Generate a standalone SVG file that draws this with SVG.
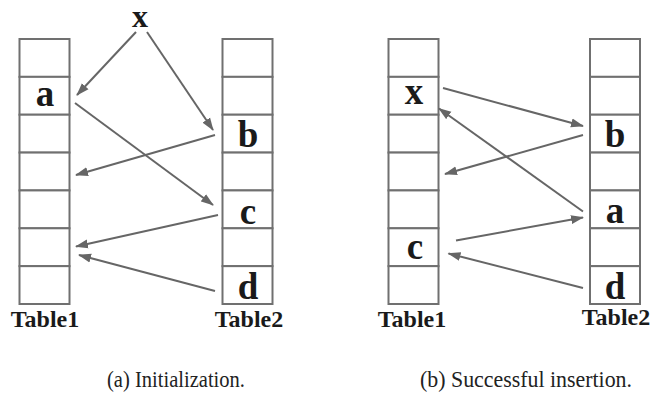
<svg xmlns="http://www.w3.org/2000/svg" width="665" height="396" viewBox="0 0 665 396">
  <style>
    .cell { fill: #ffffff; stroke: #707070; stroke-width: 2; }
    .key { font-family: 'Liberation Serif', 'Times New Roman', serif; font-weight: bold; font-size: 37px; fill: #1a1a1a; text-anchor: middle; }
    .top { font-size: 32px; }
    .label { font-family: 'Liberation Serif', 'Times New Roman', serif; font-weight: bold; font-size: 24px; fill: #1a1a1a; text-anchor: middle; }
    .caption { font-family: 'Liberation Serif', 'Times New Roman', serif; font-size: 23px; fill: #222222; text-anchor: middle; }
    .edge { stroke: #666666; stroke-width: 2; fill: none; marker-end: url(#arrow); }
  </style>
  <defs>
    <marker id="arrow" markerUnits="userSpaceOnUse" markerWidth="14" markerHeight="10" refX="12" refY="5" orient="auto">
      <path d="M0,0.5 L13,5 L0,9.5 Z" fill="#666666"/>
    </marker>
    <!-- one column of seven slots -->
    <g id="column">
      <rect class="cell" x="0" y="0" width="50" height="37.86"/>
      <rect class="cell" x="0" y="37.86" width="50" height="37.86"/>
      <rect class="cell" x="0" y="75.71" width="50" height="37.86"/>
      <rect class="cell" x="0" y="113.57" width="50" height="37.86"/>
      <rect class="cell" x="0" y="151.43" width="50" height="37.86"/>
      <rect class="cell" x="0" y="189.29" width="50" height="37.86"/>
      <rect class="cell" x="0" y="227.14" width="50" height="37.86"/>
    </g>
  </defs>

  <!-- (a) Initialization -->
  <g id="a-table1">
    <use href="#column" x="19.5" y="39"/>
    <text class="label" x="45" y="327">Table1</text>
  </g>
  <g id="a-table2">
    <use href="#column" x="222.5" y="39"/>
    <text class="label" x="249" y="327">Table2</text>
  </g>
  <g id="a-keys">
    <text class="key top" x="140" y="27">x</text>
    <text class="key" x="45" y="106">a</text>
    <text class="key" x="248" y="147">b</text>
    <text class="key" x="248" y="224">c</text>
    <text class="key" x="248" y="299">d</text>
  </g>
  <g id="a-connectors">
    <line class="edge" x1="136" y1="32" x2="77" y2="95"/>
    <line class="edge" x1="147" y1="32" x2="213" y2="130"/>
    <line class="edge" x1="75" y1="103" x2="213" y2="205"/>
    <line class="edge" x1="215" y1="135" x2="76" y2="175"/>
    <line class="edge" x1="218" y1="215" x2="76" y2="246.5"/>
    <line class="edge" x1="215" y1="291" x2="79" y2="255"/>
  </g>

  <!-- (b) Successful insertion -->
  <g id="b-table1">
    <use href="#column" x="388.5" y="39"/>
    <text class="label" x="412" y="327">Table1</text>
  </g>
  <g id="b-table2">
    <use href="#column" x="590" y="39"/>
    <text class="label" x="616" y="325">Table2</text>
  </g>
  <g id="b-keys">
    <text class="key" x="414" y="104">x</text>
    <text class="key" x="615" y="147">b</text>
    <text class="key" x="615" y="223">a</text>
    <text class="key" x="415" y="259">c</text>
    <text class="key" x="615" y="299">d</text>
  </g>
  <g id="b-connectors">
    <line class="edge" x1="443" y1="88" x2="583" y2="126"/>
    <line class="edge" x1="583" y1="135" x2="445" y2="174"/>
    <line class="edge" x1="583" y1="211.5" x2="439" y2="108.5"/>
    <line class="edge" x1="456" y1="240.5" x2="583" y2="217.5"/>
    <line class="edge" x1="583" y1="288" x2="448.5" y2="253.5"/>
  </g>

  <g id="captions">
    <text class="caption" x="176" y="387" textLength="138" lengthAdjust="spacingAndGlyphs">(a)  Initialization.</text>
    <text class="caption" x="526" y="387" textLength="212" lengthAdjust="spacingAndGlyphs">(b)  Successful insertion.</text>
  </g>
</svg>
